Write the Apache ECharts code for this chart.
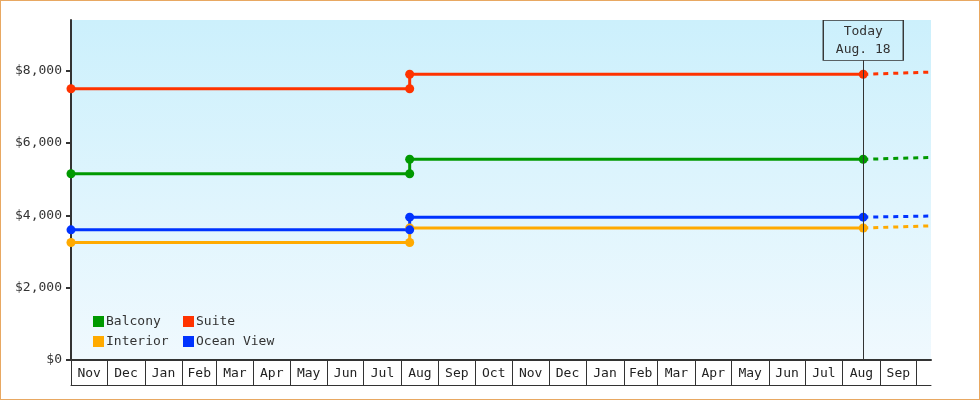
<!DOCTYPE html>
<html>
<head>
<meta charset="utf-8">
<script src="https://cdn.jsdelivr.net/npm/echarts@6/dist/echarts.min.js"></script>
<style>
  html, body { margin: 0; padding: 0; background: #fff; }
  #main { width: 980px; height: 400px; }
  #frame { position: absolute; left: 0; top: 0; width: 980px; height: 400px;
    box-sizing: border-box; border: 1px solid #e8a862; pointer-events: none; }
</style>
</head>
<body>
<div id="main"></div>
<div id="frame"></div>
<script>
// price history, solid part
let dates = ['2021-11-01', '2022-08-08', '2022-08-08', '2023-08-18']
let balcony = [5149, 5149, 5549, 5549]
let suite = [7499, 7499, 7899, 7899]
let interior = [3249, 3249, 3649, 3649]
let oceanView = [3599, 3599, 3949, 3949]

// projected part (dashed)
let forecastDates = ['2023-08-18', '2023-10-13']
let balconyForecast = [5549, 5599]
let suiteForecast = [7899, 7959]
let interiorForecast = [3649, 3709]
let oceanViewForecast = [3949, 3979]

let monthLabels = ['Nov', 'Dec', 'Jan', 'Feb', 'Mar', 'Apr', 'May', 'Jun', 'Jul', 'Aug', 'Sep', 'Oct',
  'Nov', 'Dec', 'Jan', 'Feb', 'Mar', 'Apr', 'May', 'Jun', 'Jul', 'Aug', 'Sep']
let yTicks = [0, 2000, 4000, 6000, 8000]
let today = '2023-08-18'
let todayText = 'Today\nAug. 18'
let axisStart = '2021-11-01'
let axisEnd = '2023-10-13'

const FONT = 'DejaVu Sans Mono'
const t = s => new Date(s + 'T00:00:00').getTime()

// month boundaries and mid-month label positions
let monthStarts = []
for (let i = 0; i <= monthLabels.length; i++) {
  monthStarts.push(new Date(2021, 10 + i, 1).getTime())
}
let labelPos = []
for (let i = 0; i < monthLabels.length; i++) {
  labelPos.push((monthStarts[i] + monthStarts[i + 1]) / 2)
}

function pairs (xs, ys) {
  return xs.map((x, i) => [t(x), ys[i]])
}

function solid (name, color, values) {
  return {
    name: name,
    type: 'line',
    z: 3,
    data: pairs(dates, values),
    symbol: 'circle',
    symbolSize: 9,
    showAllSymbol: true,
    itemStyle: { color: color },
    lineStyle: { color: color, width: 3 },
    emphasis: { disabled: true }
  }
}

function dashed (name, color, values) {
  return {
    name: name + ' forecast',
    type: 'line',
    z: 2,
    data: pairs(forecastDates, values),
    showSymbol: false,
    itemStyle: { color: color },
    lineStyle: { color: color, width: 3, type: [5, 5] },
    emphasis: { disabled: true }
  }
}

let chart = echarts.init(document.getElementById('main'))

let legendBase = {
  orient: 'vertical',
  top: 315,
  padding: 0,
  itemGap: 7,
  itemWidth: 11,
  itemHeight: 11,
  icon: 'rect',
  selectedMode: false,
  textStyle: { fontFamily: FONT, fontSize: 13, color: '#333', padding: [0, 0, 0, -3] }
}

let option = {
  backgroundColor: '#fff',
  animation: false,
  grid: {
    left: 71,
    right: 49,
    top: 20,
    bottom: 40,
    show: true,
    borderWidth: 0,
    backgroundColor: new echarts.graphic.LinearGradient(0, 0, 0, 1, [
      { offset: 0, color: '#ccf0fc' },
      { offset: 1, color: '#f0f9fe' }
    ])
  },
  legend: [
    Object.assign({}, legendBase, { data: ['Balcony', 'Interior'], left: 93 }),
    Object.assign({}, legendBase, { data: ['Suite', 'Ocean View'], left: 183 })
  ],
  xAxis: [{
    type: 'value',
    min: t(axisStart),
    max: t(axisEnd),
    axisLine: { onZero: false, lineStyle: { color: '#333', width: 2 } },
    axisTick: {
      show: true,
      customValues: monthStarts,
      length: 25,
      lineStyle: { color: '#333', width: 1 }
    },
    axisLabel: {
      customValues: labelPos,
      margin: 7,
      fontFamily: FONT,
      fontSize: 13,
      color: '#222',
      formatter: function (v) {
        let i = labelPos.findIndex(p => Math.abs(p - v) < 1000)
        return i >= 0 ? monthLabels[i] : ''
      }
    },
    splitLine: { show: false }
  }, {
    type: 'value',
    position: 'bottom',
    offset: 25,
    min: t(axisStart),
    max: t(axisEnd),
    axisLine: { onZero: false, lineStyle: { color: '#333', width: 1 } },
    axisTick: { show: false },
    axisLabel: { show: false },
    splitLine: { show: false }
  }],
  yAxis: {
    type: 'value',
    min: 0,
    max: 9400,
    interval: 2000,
    axisLine: { show: true, lineStyle: { color: '#333', width: 2 } },
    axisTick: { show: true, customValues: yTicks, length: 5, lineStyle: { color: '#333', width: 2 } },
    axisLabel: {
      customValues: yTicks,
      margin: 9,
      fontFamily: FONT,
      fontSize: 13,
      color: '#333',
      formatter: v => '$' + v.toLocaleString('en-US')
    },
    splitLine: { show: false }
  },
  series: [
    dashed('Balcony', '#009900', balconyForecast),
    dashed('Suite', '#ff3300', suiteForecast),
    dashed('Interior', '#ffaa00', interiorForecast),
    dashed('Ocean View', '#0033ff', oceanViewForecast),
    solid('Balcony', '#009900', balcony),
    solid('Suite', '#ff3300', suite),
    solid('Interior', '#ffaa00', interior),
    solid('Ocean View', '#0033ff', oceanView),
    {
      name: 'today',
      type: 'line',
      z: 1,
      data: [[t(today), 0]],
      showSymbol: false,
      lineStyle: { width: 0 },
      markLine: {
        silent: true,
        symbol: 'none',
        label: { show: false },
        lineStyle: { color: '#333', width: 1, type: 'solid' },
        data: [[{ coord: [t(today), 8287] }, { coord: [t(today), 0] }]]
      },
      markPoint: {
        silent: true,
        symbol: 'rect',
        symbolSize: [80, 40],
        itemStyle: { color: 'rgba(0,0,0,0)', borderColor: '#333', borderWidth: 1 },
        label: {
          show: true,
          position: 'inside',
          formatter: todayText,
          fontFamily: FONT,
          fontSize: 13,
          lineHeight: 18,
          color: '#333'
        },
        data: [{ coord: [t(today), 8839] }]
      }
    }
  ]
}

chart.setOption(option)
</script>
</body>
</html>
